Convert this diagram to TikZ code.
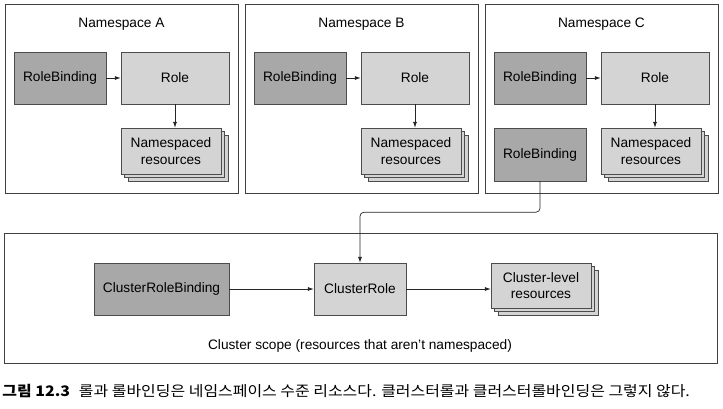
\documentclass[tikz,border=0pt]{standalone}
\usepackage{fontspec}
\setmainfont{Liberation Sans}
\newfontfamily\krfont{Noto Sans CJK KR}
\usetikzlibrary{arrows.meta, calc, positioning}

\begin{document}
\begin{tikzpicture}[x=1pt,y=-1pt,thick,
    scope box/.style={draw=black!75,line width=0.9pt,minimum width=233pt,minimum height=189pt},
    binding/.style={draw=black!70,thin,fill=binding,minimum width=92pt,minimum height=52pt,align=center},
    rolebox/.style={draw=black!70,thin,fill=role,minimum width=108pt,minimum height=52pt,align=center},
    stackbox/.style={draw=black!70,thin,fill=role,minimum width=100pt,minimum height=46pt,align=center},
    link/.style={draw=black!85,line width=0.7pt,-{Latex[length=6pt,width=4pt]}}]
  \def\RB{RoleBinding}
  \def\NR{Namespaced\\resources}

  \colorlet{binding}{black!34}
  \colorlet{role}{black!17}

  \fontsize{13.7}{16.5}\selectfont
  \useasboundingbox (0,0) rectangle (723,408);

  % namespaces
  \foreach \ns/\dx in {A/0,B/240,C/480} {
    \node [scope box] (ns\ns) at (121.5+\dx,98.5) {};
    \node (title\ns) at (121.5+\dx,24) {Namespace \ns};
    \node [binding] (rb\ns) at (60+\dx,78) {\RB};
    \node [rolebox] (role\ns) at (175+\dx,78) {Role};
    \node [stackbox] at (178+\dx,158) {};
    \node [stackbox] at (174.5+\dx,154.5) {};
    \node [stackbox] (res\ns) at (171+\dx,151) {\NR};
    \draw [link] (rb\ns) -- (role\ns);
    \draw [link] (role\ns.south) -- (role\ns.south |- res\ns.north);
  }
  \node [binding,minimum height=53pt] (rbD) at (540,154.5) {\RB};

  % cluster scope
  \node [scope box,minimum width=713pt,minimum height=130pt] (cluster) at (360.5,298) {};
  \node (clusterlabel) at (360,346) {Cluster scope (resources that aren't namespaced)};
  \node [binding,minimum width=135pt] (crb) at (161.5,289) {ClusterRoleBinding};
  \node [binding,fill=role] (crole) at (360,289) {ClusterRole};
  \node [stackbox,minimum height=45pt] at (548,292.5) {};
  \node [stackbox,minimum height=45pt] at (544.5,289) {};
  \node [stackbox,minimum height=45pt] (clres) at (541,285.5) {Cluster-level\\resources};

  \draw [link] (crb) -- (crole);
  \draw [link] (crole.east) -- (crole.east -| clres.west);
  \draw [link,rounded corners=4pt] (rbD.south) -- ++(0,31) -| (crole.north);

  % caption
  \node [anchor=west,inner sep=0pt,xscale=1.1,font=\krfont\fontsize{14.5}{17}\selectfont] (caption) at (2,391)
    {\textbf{그림 12.3}\hspace{8pt}롤과 롤바인딩은 네임스페이스 수준 리소스다. 클러스터롤과 클러스터롤바인딩은 그렇지 않다.};
\end{tikzpicture}
\end{document}
